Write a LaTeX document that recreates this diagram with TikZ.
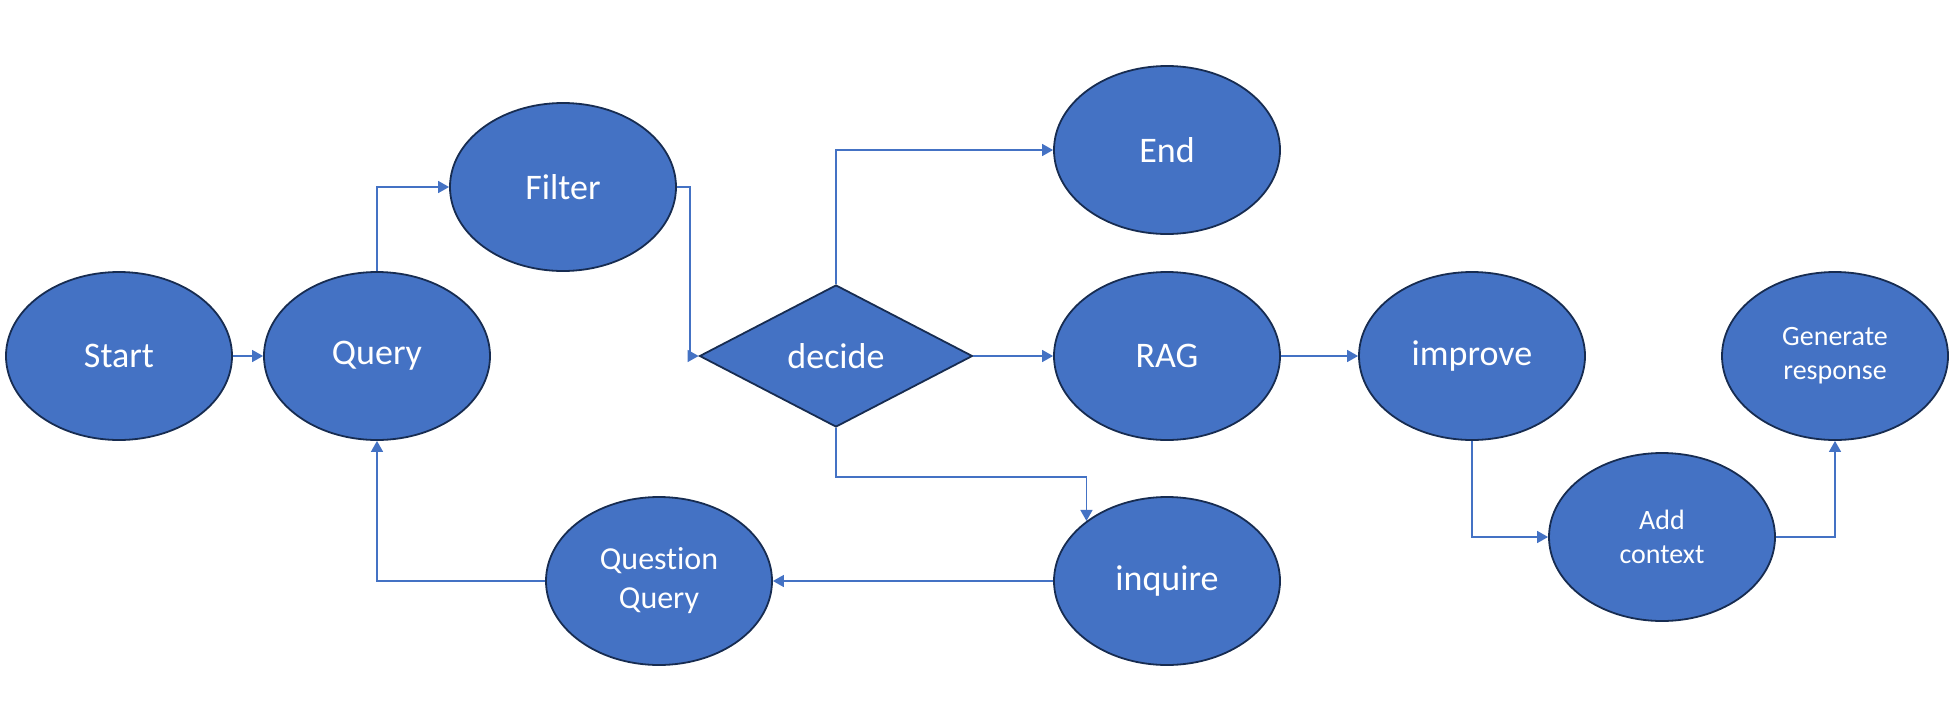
\documentclass[tikz,border=0pt]{standalone}
\usepackage{fontspec}
\setmainfont[Ligatures=NoCommon]{Carlito}
\usetikzlibrary{positioning,arrows.meta,shapes.geometric}
\definecolor{fillblue}{HTML}{4472C4}
\definecolor{edgenavy}{HTML}{172C51}
\definecolor{linkblue}{HTML}{4472C4}

\begin{document}
\begin{tikzpicture}[x=0.5pt,y=-0.5pt,
      every node/.style={font=\fontsize{18}{22}\selectfont,text=white},
      oval/.style={ellipse,draw=edgenavy,line width=0.9pt,fill=fillblue,minimum width=113pt,minimum height=84pt,inner sep=0pt,align=center},
      small/.style={font=\fontsize{16}{19.5}\selectfont},
      tiny/.style={font=\fontsize{14}{17}\selectfont},
      choice/.style={diamond,draw=edgenavy,line width=0.9pt,fill=fillblue,minimum width=136.5pt,minimum height=71pt,inner sep=0pt},
      link/.style={draw=linkblue,line width=0.7pt,-{Triangle[length=5.5pt,width=6pt]}}]
    \useasboundingbox (0,0) rectangle (1960,723);
    % main row
    \node[oval] (start) at (119,356) {Start};
    \node[oval] (query) at (377,356) {Query};
    \node[oval] (filter) at (563,187) {Filter};
    \node[choice] (decide) at (836,356) {decide};
    \node[oval] (end) at (1167,150) {End};
    \node[oval] (rag) at (1167,356) {RAG};
    \node[oval] (improve) at (1472,356) {improve};
    \node[oval,tiny] (gen) at (1835,356) {Generate\\response};
    % lower row
    \node[oval,tiny] (ctx) at (1662,537) {Add\\context};
    \node[oval] (inquire) at (1167,581) {inquire};
    \node[oval,small] (qq) at (659,581) {Question\\Query};
    % connectors
    \draw[link] (start) -- (query);
    \draw[link] (query.north) |- (filter.west);
    \draw[link] (filter.east) -- ++(13,0) |- (decide.west);
    \draw[link] (decide.north) |- (end.west);
    \draw[link] (decide.east) -- (rag.west);
    \draw[link] (decide.south) -- ++(0,49) -| (inquire.north west);
    \draw[link] (inquire.west) -- (qq.east);
    \draw[link] (qq.west) -| (query.south);
    \draw[link] (rag.east) -- (improve.west);
    \draw[link] (improve.south) |- (ctx.west);
    \draw[link] (ctx.east) -| (gen.south);
  \end{tikzpicture}
\end{document}
